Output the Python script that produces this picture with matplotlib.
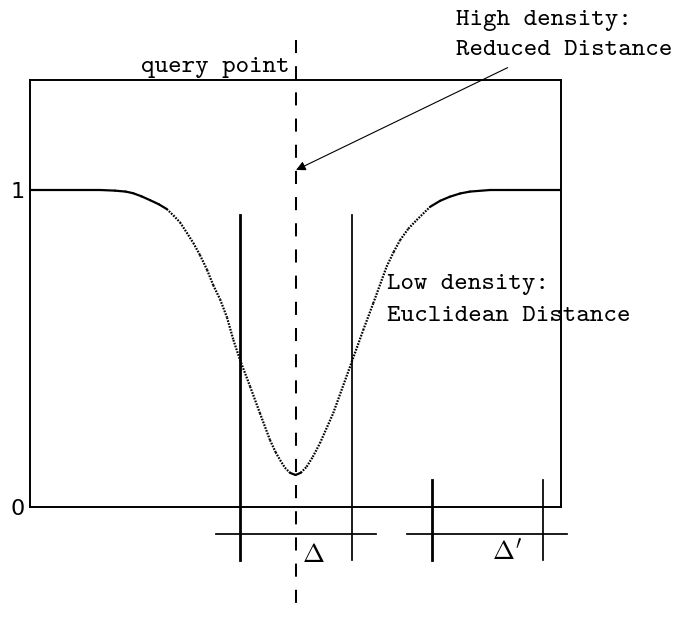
import matplotlib.pyplot as plt

plt.rcParams["mathtext.fontset"] = "cm"

TT = "cmtt10"

# curve (x: -1..1 across the box, y: 1 = flat level)
curve_x = [-1.0, -0.80, -0.736, -0.680, -0.640, -0.612, -0.580, -0.548, -0.515,
           -0.485, -0.460, -0.435, -0.410, -0.385, -0.360, -0.333, -0.310,
           -0.284, -0.258, -0.234, -0.209, -0.171, -0.134, -0.096, -0.075,
           -0.058, -0.040, -0.021, 0.0, 0.020, 0.042, 0.065, 0.092, 0.142,
           0.212, 0.255, 0.293, 0.320, 0.343, 0.370, 0.394, 0.425, 0.456,
           0.507, 0.545, 0.582, 0.620, 0.657, 0.733, 0.80, 1.0]
curve_y = [1.0, 1.0, 1.0, 0.998, 0.995, 0.990, 0.980, 0.968, 0.955,
           0.940, 0.920, 0.898, 0.866, 0.833, 0.795, 0.748, 0.700,
           0.655, 0.598, 0.527, 0.464, 0.380, 0.296, 0.211, 0.173,
           0.148, 0.124, 0.108, 0.101, 0.108, 0.127, 0.158, 0.201, 0.296,
           0.458, 0.558, 0.643, 0.705, 0.758, 0.805, 0.842, 0.878, 0.905,
           0.947, 0.966, 0.979, 0.989, 0.995, 1.0, 1.0, 1.0]

query_x = 0.0
window_near = [-0.209, 0.213]
window_far = [0.513, 0.933]
ytick_vals = [0, 1]
ytick_labels = ["0", "1"]


def main():
    fig = plt.figure(figsize=(6.8, 6.17), dpi=100)
    ax = fig.add_axes([30 / 680, 110 / 617, 531 / 680, 427 / 617])
    ax.set_xlim(-1, 1)
    ax.set_ylim(0, 1.347)

    for spine in ax.spines.values():
        spine.set_linewidth(1.4)
    ax.set_xticks([])
    ax.set_yticks(ytick_vals)
    ax.set_yticklabels(ytick_labels)
    ax.tick_params(axis="y", length=0, pad=4, labelsize=16)

    # curve: evenly sampled dots merge where flat, separate where steep
    for i in range(len(curve_x) - 1):
        xs = curve_x[i:i + 2]
        ys = curve_y[i:i + 2]
        steep = abs((ys[1] - ys[0]) * 317) / ((xs[1] - xs[0]) * 265.5)
        if steep < 0.7:
            ax.plot(xs, ys, color="black", lw=1.6, solid_capstyle="round")
        else:
            ax.plot(xs, ys, color="black", lw=1.6, dashes=(0.75, 0.6))

    # query point dashed line
    ax.plot([query_x, query_x], [1.473, -0.325], color="black", lw=1.45,
            dashes=(6.5, 6.5), clip_on=False)

    # window bars
    ax.plot([window_near[0]] * 2, [0.921, -0.167], color="black", lw=2.0, clip_on=False)
    ax.plot([window_near[1]] * 2, [0.921, -0.167], color="black", lw=1.25, clip_on=False)
    ax.plot([window_far[0]] * 2, [0.085, -0.167], color="black", lw=2.0, clip_on=False)
    ax.plot([window_far[1]] * 2, [0.085, -0.167], color="black", lw=1.25, clip_on=False)
    ax.plot([-0.299, 0.302], [-0.084, -0.084], color="black", lw=1.25, clip_on=False)
    ax.plot([0.419, 1.021], [-0.084, -0.084], color="black", lw=1.25, clip_on=False)

    ax.text(0.023, -0.173, r"$\Delta$", fontsize=19, ha="left", va="baseline")
    ax.text(0.740, -0.167, r"$\Delta'$", fontsize=19, ha="left", va="baseline")

    # labels
    ax.text(-0.021, 1.372, "query point", family=TT, fontsize=18.5,
            ha="right", va="baseline", clip_on=False)
    ax.text(0.604, 1.520, "High density:", family=TT, fontsize=18.5,
            ha="left", va="baseline", clip_on=False)
    ax.text(0.604, 1.426, "Reduced Distance", family=TT, fontsize=18.5,
            ha="left", va="baseline", clip_on=False)
    ax.text(0.343, 0.688, "Low density:", family=TT, fontsize=18.5,
            ha="left", va="baseline")
    ax.text(0.343, 0.588, "Euclidean Distance", family=TT, fontsize=18.5,
            ha="left", va="baseline")

    ax.annotate("", xy=(0.002, 1.063), xytext=(0.799, 1.386),
                arrowprops=dict(arrowstyle="-|>", color="black", lw=0.8,
                                mutation_scale=14, shrinkA=0, shrinkB=0),
                annotation_clip=False)

    fig.savefig("out.png", dpi=100, facecolor="white")
    plt.close(fig)


if __name__ == "__main__":
    main()
